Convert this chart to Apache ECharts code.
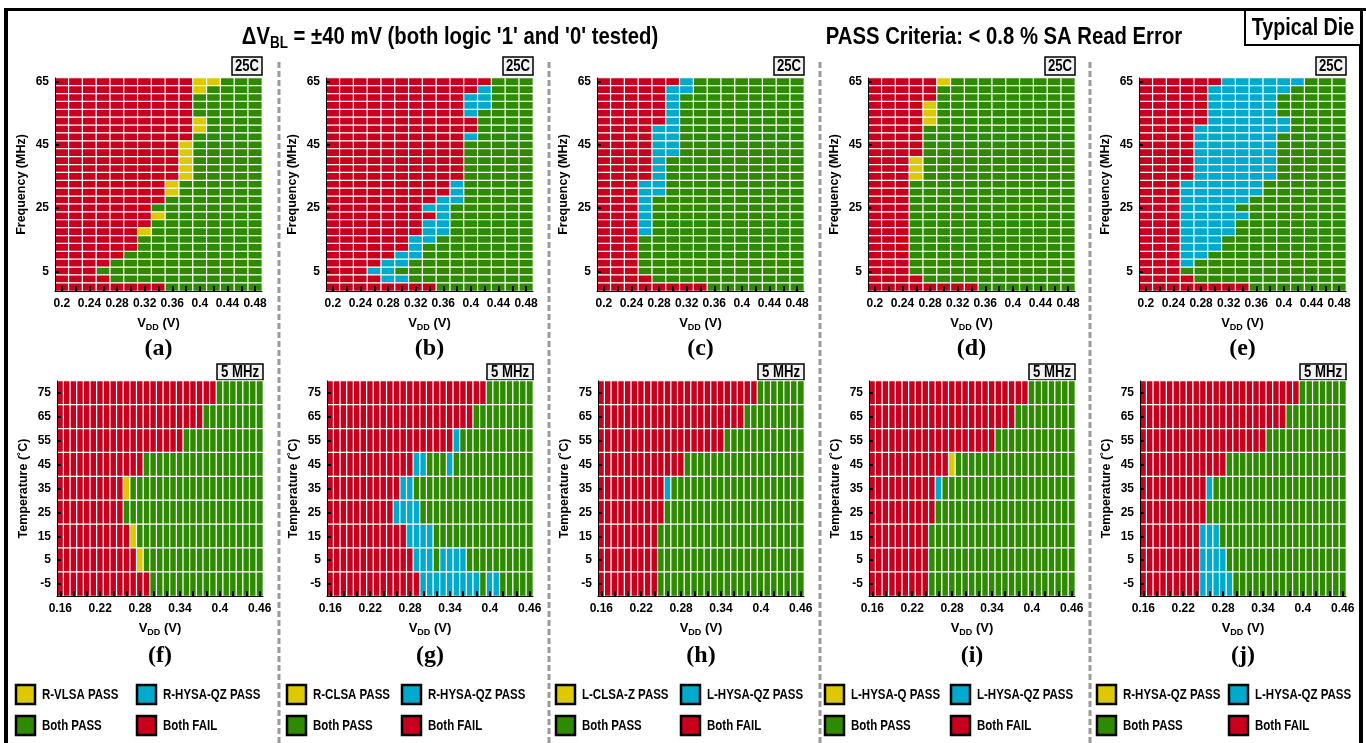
<!DOCTYPE html>
<html><head><meta charset="utf-8">
<script src="https://cdn.jsdelivr.net/npm/echarts@6/dist/echarts.min.js"></script>
<style>html,body{margin:0;padding:0;background:#fff}#c{width:1366px;height:743px}</style>
</head><body><div id="c"></div>
<script>
// ---------- categories / tick labels ----------
const vddTop = ['0.2','0.22','0.24','0.26','0.28','0.3','0.32','0.34','0.36','0.38','0.4','0.42','0.44','0.46','0.48'];
const freqTop = ['0','2.5','5','7.5','10','12.5','15','17.5','20','22.5','25','27.5','30','32.5','35','37.5','40','42.5','45','47.5','50','52.5','55','57.5','60','62.5','65'];
const vddBot = ['0.16','0.17','0.18','0.19','0.2','0.21','0.22','0.23','0.24','0.25','0.26','0.27','0.28','0.29','0.3','0.31','0.32','0.33','0.34','0.35','0.36','0.37','0.38','0.39','0.4','0.41','0.42','0.43','0.44','0.45','0.46'];
const tempBot = ['-5','5','15','25','35','45','55','65','75'];

// ---------- cell states, rows listed top -> bottom (run-length: R fail, G both pass, Y / C single pass) ----------
const panelA = ['10R2Y3G','10R1Y4G','10R5G','10R5G','10R5G','10R1Y4G','10R1Y4G','10R5G','9R1Y5G','9R1Y5G','9R1Y5G','9R1Y5G','9R1Y5G','8R1Y6G','8R1Y6G','8R7G','7R8G','7R1Y7G','7R8G','6R1Y8G','6R9G','6R9G','5R10G','4R11G','3R12G','4R11G','8R7G'];
const panelB = ['12R3G','11R1C3G','10R2C3G','10R2C3G','10R1C4G','11R4G','11R4G','10R1C4G','10R5G','10R5G','10R5G','10R5G','10R5G','9R1C5G','9R1C5G','8R2C5G','7R2C6G','8R1C6G','7R2C6G','7R2C6G','6R2C7G','6R1C8G','5R2C8G','4R2C9G','3R2C10G','4R2C9G','8R7G'];
const panelC = ['6R1C8G','5R2C8G','5R1C9G','5R1C9G','5R1C9G','5R1C9G','4R2C9G','4R2C9G','4R2C9G','4R2C9G','4R1C10G','4R1C10G','4R1C10G','3R2C10G','3R2C10G','3R1C11G','3R1C11G','3R1C11G','3R1C11G','3R1C11G','3R12G','3R12G','3R12G','3R12G','3R12G','4R11G','8R7G'];
const panelD = ['5R1Y9G','5R10G','5R10G','4R1Y10G','4R1Y10G','4R1Y10G','4R11G','4R11G','4R11G','4R11G','3R1Y11G','3R1Y11G','3R1Y11G','3R12G','3R12G','3R12G','3R12G','3R12G','3R12G','3R12G','3R12G','3R12G','3R12G','3R12G','3R12G','4R11G','8R7G'];
const panelE = ['6R6C3G','5R6C4G','5R5C5G','5R5C5G','5R5C5G','5R6C4G','4R7C4G','4R6C5G','4R6C5G','4R6C5G','4R6C5G','4R6C5G','4R6C5G','3R6C6G','3R6C6G','3R5C7G','3R4C8G','3R5C7G','3R4C8G','3R4C8G','3R3C9G','3R3C9G','3R2C10G','3R1C11G','3R12G','4R11G','8R7G'];
const panelF = ['24R7G','22R9G','19R12G','13R18G','10R1Y20G','10R21G','11R1Y19G','12R1Y18G','14R17G'];
const panelG = ['24R7G','22R9G','19R1C11G','13R2C3G1C12G','11R2C18G','10R4C17G','12R4C15G','13R3C1G4C10G','14R9C1G2C5G'];
const panelH = ['24R7G','22R9G','19R12G','13R18G','10R1C20G','10R21G','9R22G','9R22G','9R22G'];
const panelI = ['24R7G','22R9G','19R12G','12R1Y18G','10R1C20G','10R21G','9R22G','9R22G','9R22G'];
const panelJ = ['24R7G','22R9G','19R12G','13R18G','10R1C20G','10R21G','9R3C19G','9R4C18G','9R5C17G'];

// ---------- texts ----------
const panelLetters = ['(a)','(b)','(c)','(d)','(e)','(f)','(g)','(h)','(i)','(j)'];
const legendSingle = [['R-VLSA PASS','R-HYSA-QZ PASS'],['R-CLSA PASS','R-HYSA-QZ PASS'],['L-CLSA-Z PASS','L-HYSA-QZ PASS'],['L-HYSA-Q PASS','L-HYSA-QZ PASS'],['R-HYSA-QZ PASS','L-HYSA-QZ PASS']];
const legendBoth = ['Both PASS','Both FAIL'];

// ---------- styling ----------
const RED = '#C8001E', GREEN = '#2E8A00', YELLOW = '#DEC800', CYAN = '#00AACC';
const F = "'Liberation Sans',Arial,sans-serif";
const SERIF = "'Liberation Serif','Times New Roman',serif";
const NARROW = 0.82;
const CODE = {R:0, G:1, Y:2, C:3};

function expand(rle){
  const out = [];
  rle.replace(/(\d+)([RGYC])/g, (m, n, c) => { for (let i = 0; i < +n; i++) out.push(CODE[c]); return m; });
  return out;
}
function toCells(rows){
  const data = [];
  rows.forEach((r, ri) => {
    const y = rows.length - 1 - ri;
    expand(r).forEach((v, x) => data.push([x, y, v]));
  });
  return data;
}

const panels = [panelA, panelB, panelC, panelD, panelE, panelF, panelG, panelH, panelI, panelJ];
const topLefts = [55, 326, 597, 868, 1139];
const botLefts = [57, 327, 598, 869, 1140];

const grids = [], xAxes = [], yAxes = [], series = [];
const axisLabelStyle = {fontFamily: F, fontWeight: 'bold', fontSize: 12, color: '#000'};
const nameRich = {
  a: {fontFamily: F, fontWeight: 'bold', fontSize: 13, color: '#000', lineHeight: 17},
  b: {fontFamily: F, fontWeight: 'bold', fontSize: 9, color: '#000', lineHeight: 9, verticalAlign: 'bottom'}
};

for (let i = 0; i < 10; i++) {
  const isTop = i < 5;
  const col = i % 5;
  grids.push(isTop
    ? {left: topLefts[col], top: 78, width: 207, height: 213}
    : {left: botLefts[col], top: 381, width: 206, height: 215});
  xAxes.push({
    type: 'category', gridIndex: i, data: isTop ? vddTop : vddBot, z: 5,
    axisLine: {show: true, lineStyle: {color: '#000', width: 1}},
    axisTick: {show: true, inside: true, alignWithLabel: true, length: 5,
      interval: isTop ? 0 : (idx) => idx % 2 === 0, lineStyle: {color: '#000', width: 2}},
    axisLabel: Object.assign({interval: isTop ? 1 : 5, margin: 7}, axisLabelStyle),
    splitLine: {show: false},
    name: '{a|V}{b|DD}{a| (V)}', nameLocation: 'middle', nameGap: 24,
    nameTextStyle: {rich: nameRich}
  });
  yAxes.push({
    type: 'category', gridIndex: i, data: isTop ? freqTop : tempBot, z: 5,
    axisLine: {show: true, lineStyle: {color: '#000', width: 1}},
    axisTick: {show: true, inside: true, alignWithLabel: true, length: 4,
      interval: isTop ? (idx) => idx % 8 === 2 : 0, lineStyle: {color: '#000', width: 2}},
    axisLabel: Object.assign({interval: isTop ? (idx) => idx % 8 === 2 : 0, margin: 6}, axisLabelStyle),
    splitLine: {show: false},
    name: isTop ? 'Frequency (MHz)' : 'Temperature (\u02DAC)', nameLocation: 'middle', nameGap: 27,
    nameTextStyle: {fontFamily: F, fontWeight: 'bold', fontSize: 12.5, color: '#000'}
  });
  series.push({
    type: 'heatmap', xAxisIndex: i, yAxisIndex: i, data: toCells(panels[i]),
    itemStyle: {borderColor: '#fff', borderWidth: 1.2},
    emphasis: {disabled: true}, silent: true
  });
}

// ---------- graphic decorations ----------
const g = [];
function narrowText(x, y, text, size, align){
  return {type: 'text', x: x, y: y, scaleX: NARROW, z: 10,
    style: {x: 0, y: 0, text: text, align: align, verticalAlign: 'middle',
      font: 'bold ' + size + 'px ' + F, fill: '#000'}};
}
// frame
g.push({type: 'line', shape: {x1: 4, y1: 9.5, x2: 1366, y2: 9.5}, style: {stroke: '#000', lineWidth: 3}});
g.push({type: 'line', shape: {x1: 6, y1: 8, x2: 6, y2: 743}, style: {stroke: '#000', lineWidth: 4}});
g.push({type: 'line', shape: {x1: 1361, y1: 8, x2: 1361, y2: 743}, style: {stroke: '#000', lineWidth: 4}});
// dashed separators
[279, 549, 820, 1090].forEach(x => g.push({type: 'line', shape: {x1: x, y1: 62, x2: x, y2: 743},
  style: {stroke: '#9a9a9a', lineWidth: 3, lineDash: [6, 3]}}));
// titles
g.push({type: 'text', x: 450, y: 37, scaleX: 0.845, style: {x: 0, y: 0, align: 'center', verticalAlign: 'middle',
  text: '{a|\u0394V}{b|BL}{a| = \u00B140 mV (both logic \'1\' and \'0\' tested)}',
  rich: {a: {fontFamily: F, fontWeight: 'bold', fontSize: 24, fill: '#000', lineHeight: 30},
         b: {fontFamily: F, fontWeight: 'bold', fontSize: 16, fill: '#000', lineHeight: 16, verticalAlign: 'bottom'}}}});
g.push({type: 'text', x: 1004, y: 37, scaleX: 0.845, style: {x: 0, y: 0, align: 'center', verticalAlign: 'middle',
  text: 'PASS Criteria: < 0.8 % SA Read Error', font: 'bold 24px ' + F, fill: '#000'}});
g.push({type: 'rect', shape: {x: 1245, y: 10, width: 116, height: 35}, style: {fill: '#fff', stroke: '#000', lineWidth: 2}});
g.push(narrowText(1303, 28, 'Typical Die', 24, 'center'));
// per panel boxes and letters
for (let i = 0; i < 10; i++) {
  const isTop = i < 5;
  const gr = grids[i];
  const right = gr.left + gr.width;
  const bw = isTop ? 30 : 46, bh = isTop ? 18 : 16, by = isTop ? 57 : 364;
  g.push({type: 'rect', shape: {x: right - bw, y: by, width: bw, height: bh}, style: {fill: '#f2f2f2', stroke: '#000', lineWidth: 1.5}});
  g.push(narrowText(right - bw / 2, by + bh / 2 + 0.5, isTop ? '25C' : '5 MHz', 16, 'center'));
  g.push({type: 'text', style: {x: gr.left + gr.width / 2, y: isTop ? 349 : 656, align: 'center', verticalAlign: 'middle',
    text: panelLetters[i], font: 'bold 24px ' + SERIF, fill: '#000'}});
}
// legends
const legendLefts = [16, 287, 556, 825, 1097];
const legendLefts2 = [137, 402, 681, 951, 1229];
const LFONT = 14;
for (let c = 0; c < 5; c++) {
  const bx = legendLefts[c], bx2 = legendLefts2[c];
  const items = [
    [bx, 685, YELLOW, legendSingle[c][0]], [bx2, 685, CYAN, legendSingle[c][1]],
    [bx, 716, GREEN, legendBoth[0]], [bx2, 716, RED, legendBoth[1]]
  ];
  items.forEach(([x, y, color, label]) => {
    g.push({type: 'rect', shape: {x: x, y: y, width: 19, height: 19}, style: {fill: color, stroke: '#000', lineWidth: 2.5}});
    g.push(narrowText(x + 26, y + 10, label, LFONT, 'left'));
  });
}

const chart = echarts.init(document.getElementById('c'), null, {renderer: 'canvas'});
chart.setOption({
  animation: false,
  backgroundColor: '#fff',
  grid: grids, xAxis: xAxes, yAxis: yAxes, series: series,
  visualMap: {type: 'piecewise', show: false, dimension: 2, seriesIndex: [0,1,2,3,4,5,6,7,8,9],
    pieces: [{value: 0, color: RED}, {value: 1, color: GREEN}, {value: 2, color: YELLOW}, {value: 3, color: CYAN}]},
  graphic: {elements: g}
});
</script></body></html>
